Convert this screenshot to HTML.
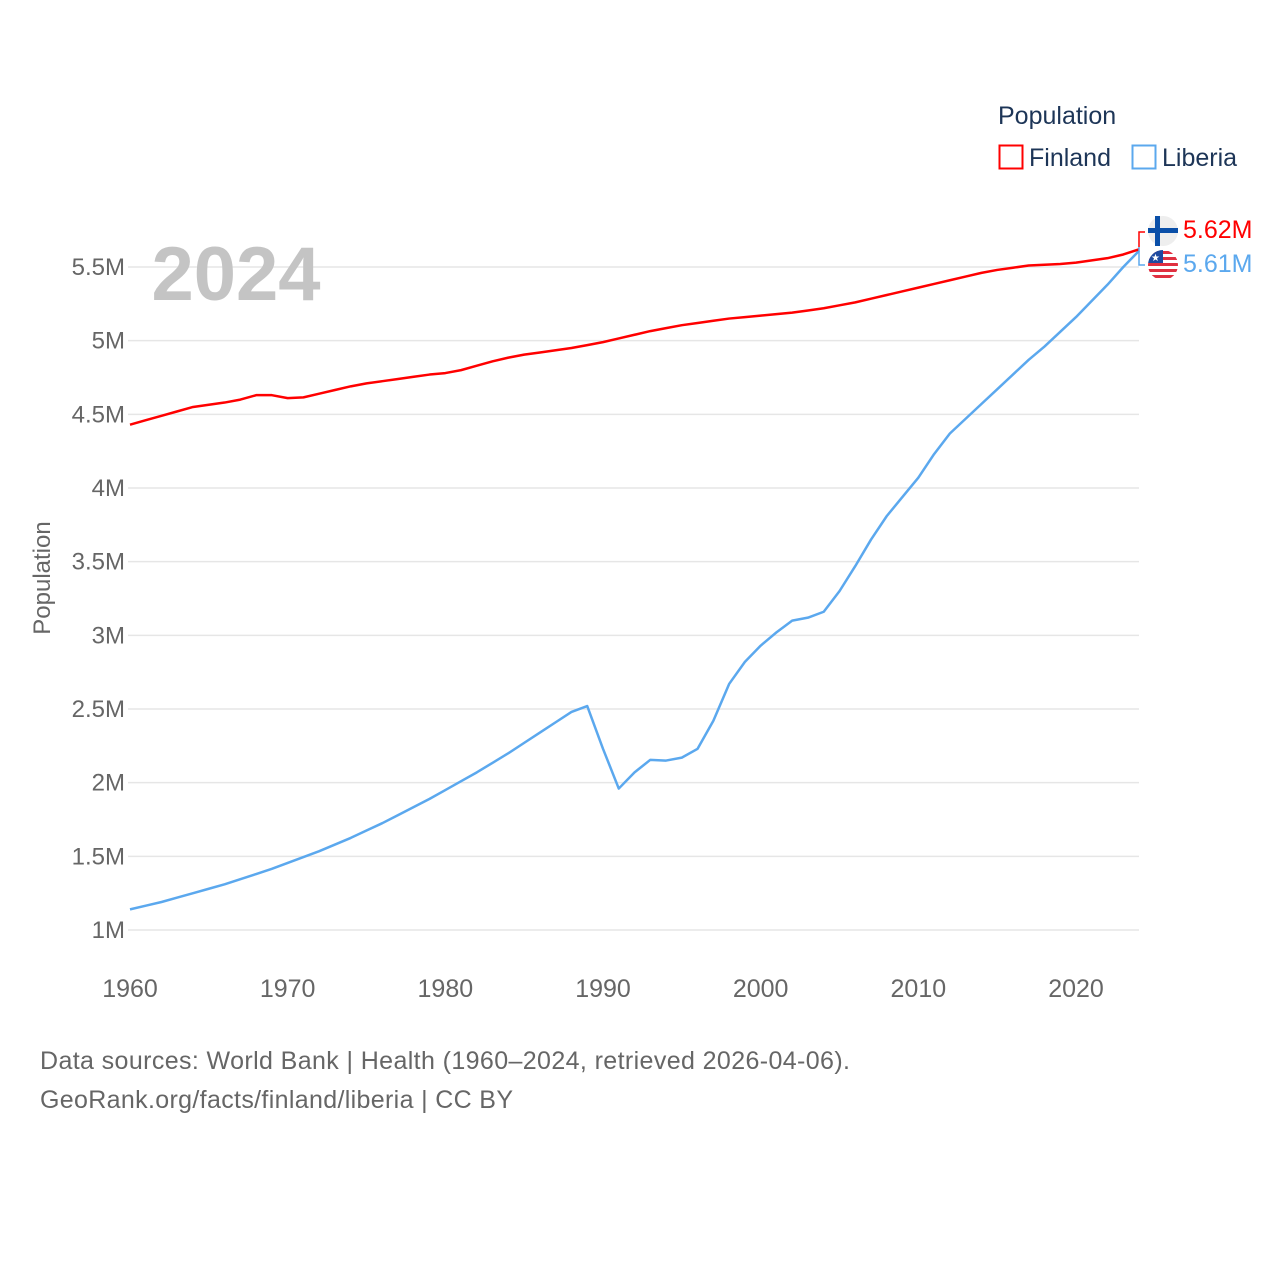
<!DOCTYPE html>
<html><head><meta charset="utf-8"><style>
html,body{margin:0;padding:0;background:#fff;}
svg{display:block;font-family:"Liberation Sans",sans-serif;}
</style></head><body>
<svg id="chart" width="1280" height="1280" viewBox="0 0 1280 1280">
<g id="grid"></g>
<g id="yticks"></g>
<g id="xticks"></g>
<text x="236" y="300" font-size="76" font-weight="bold" fill="#c4c4c4" text-anchor="middle">2024</text>
<text transform="translate(50,578) rotate(-90)" font-size="24" fill="#666" text-anchor="middle">Population</text>
<g id="series"></g>
<g>
<text x="998" y="124" font-size="25" fill="#1d3557">Population</text>
<g><rect x="999.5" y="145.5" width="23" height="23" fill="none" stroke="#f00" stroke-width="2"/><text x="1029" y="166" font-size="25" fill="#1d3557">Finland</text></g>
<g><rect x="1132.5" y="145.5" width="23" height="23" fill="none" stroke="#5ba8ee" stroke-width="2"/><text x="1162" y="166" font-size="25" fill="#1d3557">Liberia</text></g>
</g>
<g>
<polyline points="1139,247 1139,232 1145,232" fill="none" stroke="#f00" stroke-width="1.5"/>
<polyline points="1139,247 1139,265 1145,265" fill="none" stroke="#5ba8ee" stroke-width="1.5"/>
<g><circle cx="1163" cy="231" r="15" fill="#eee"/><rect x="1148" y="228" width="30" height="5" fill="#0a4fa8"/><rect x="1155" y="216" width="5" height="30" fill="#0a4fa8"/></g>
<g><clipPath id="lc"><circle cx="1163" cy="265" r="15"/></clipPath><g clip-path="url(#lc)"><rect x="1148" y="250" width="30" height="30" fill="#fff"/><rect x="1148" y="251" width="30" height="3" fill="#e03040"/><rect x="1148" y="257" width="30" height="3" fill="#e03040"/><rect x="1148" y="263" width="30" height="3" fill="#e03040"/><rect x="1148" y="269" width="30" height="3" fill="#e03040"/><rect x="1148" y="275" width="30" height="3" fill="#e03040"/><rect x="1148" y="250" width="15" height="13" fill="#1f4aa0"/><text x="1155.5" y="261" font-size="10" fill="#fff" text-anchor="middle">★</text></g></g>
<text x="1183" y="238" font-size="25" fill="#f00">5.62M</text>
<text x="1183" y="272" font-size="25" fill="#5ba8ee">5.61M</text>
</g>
<text x="40" y="1069" font-size="25" fill="#666" textLength="810">Data sources: World Bank | Health (1960–2024, retrieved 2026-04-06).</text>
<text x="40" y="1108" font-size="25" fill="#666" textLength="473">GeoRank.org/facts/finland/liberia | CC BY</text>
</svg>
<script>
const years = [];
for (let y = 1960; y <= 2024; y++) years.push(y);
const finland = [4.43,4.46,4.49,4.52,4.55,4.565,4.58,4.60,4.63,4.63,4.61,4.615,4.64,4.665,4.69,4.71,4.725,4.74,4.755,4.77,4.78,4.80,4.83,4.86,4.885,4.905,4.92,4.935,4.95,4.97,4.99,5.015,5.04,5.065,5.085,5.105,5.12,5.135,5.15,5.16,5.17,5.18,5.19,5.205,5.22,5.24,5.26,5.285,5.31,5.335,5.36,5.385,5.41,5.435,5.46,5.48,5.495,5.51,5.515,5.52,5.53,5.545,5.56,5.585,5.62];
const liberia = [1.14,1.165,1.19,1.22,1.25,1.28,1.31,1.345,1.38,1.415,1.455,1.495,1.535,1.58,1.625,1.675,1.725,1.78,1.835,1.89,1.95,2.01,2.07,2.135,2.2,2.27,2.34,2.41,2.48,2.52,2.23,1.96,2.07,2.155,2.15,2.17,2.23,2.42,2.67,2.82,2.93,3.02,3.10,3.12,3.16,3.30,3.47,3.65,3.81,3.94,4.07,4.23,4.37,4.47,4.57,4.67,4.77,4.87,4.96,5.06,5.16,5.27,5.38,5.50,5.61];
const yTicks = [1,1.5,2,2.5,3,3.5,4,4.5,5,5.5];
const yTickLabels = ["1M","1.5M","2M","2.5M","3M","3.5M","4M","4.5M","5M","5.5M"];
const xTicks = [1960,1970,1980,1990,2000,2010,2020];
const NS = "http://www.w3.org/2000/svg";
const xs = y => 130 + (y - 1960) * (946 / 60);
const ys = v => 930 - (v - 1) * (663 / 4.5);
const grid = document.getElementById('grid'), yt = document.getElementById('yticks'), xt = document.getElementById('xticks'), ser = document.getElementById('series');
yTicks.forEach((v, i) => {
  const l = document.createElementNS(NS, 'line');
  l.setAttribute('x1', 128); l.setAttribute('x2', 1139);
  l.setAttribute('y1', ys(v)); l.setAttribute('y2', ys(v));
  l.setAttribute('stroke', '#e6e6e6'); l.setAttribute('stroke-width', '1.5');
  
  
  grid.appendChild(l);
  const t = document.createElementNS(NS, 'text');
  t.setAttribute('x', 125); t.setAttribute('y', ys(v) + 8);
  t.setAttribute('text-anchor', 'end'); t.setAttribute('font-size', '24'); t.setAttribute('fill', '#666');
  t.textContent = yTickLabels[i];
  
  
  yt.appendChild(t);
});
xTicks.forEach(y => {
  const t = document.createElementNS(NS, 'text');
  t.setAttribute('x', xs(y)); t.setAttribute('y', 997);
  t.setAttribute('text-anchor', 'middle'); t.setAttribute('font-size', '25'); t.setAttribute('fill', '#666');
  t.textContent = y;
  
  
  xt.appendChild(t);
});
function line(vals, color, name) {
  const p = document.createElementNS(NS, 'polyline');
  p.setAttribute('points', vals.map((v, i) => xs(years[i]) + ',' + ys(v)).join(' '));
  p.setAttribute('fill', 'none'); p.setAttribute('stroke', color); p.setAttribute('stroke-width', '2.5');
  p.setAttribute('stroke-linejoin', 'round');
  
  
  ser.appendChild(p);
}
line(liberia, '#5ba8ee', 'liberia-line');
line(finland, '#f00', 'finland-line');
</script>
</body></html>
